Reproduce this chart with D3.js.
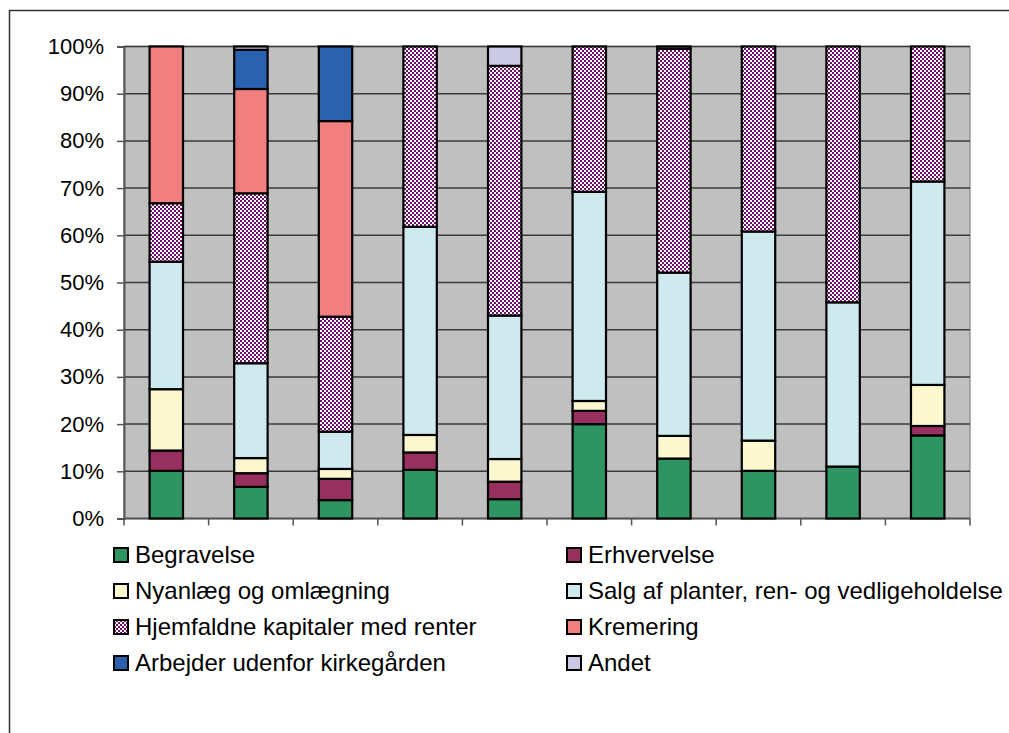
<!DOCTYPE html>
<html>
<head>
<meta charset="utf-8">
<script src="https://cdn.jsdelivr.net/npm/d3@7"></script>
<style>
  html, body { margin: 0; padding: 0; background: #fff; }
  svg { display: block; font-family: Arial, "Liberation Sans", sans-serif; }
</style>
</head>
<body>
<svg id="chart" width="1009" height="733"></svg>
<script>
const categories = ["1", "2", "3", "4", "5", "6", "7", "8", "9", "10"];
const seriesNames = [
  "Begravelse", "Erhvervelse", "Nyanlæg og omlægning",
  "Salg af planter, ren- og vedligeholdelse", "Hjemfaldne kapitaler med renter",
  "Kremering", "Arbejder udenfor kirkegården", "Andet"
];
const begravelse  = [10.1, 6.7, 3.9, 10.3, 4.1, 20.0, 12.7, 10.1, 11.0, 17.6];
const erhvervelse = [4.3, 2.9, 4.5, 3.7, 3.7, 2.8, 0, 0, 0, 2.0];
const nyanlaeg    = [13.0, 3.2, 2.1, 3.7, 4.8, 2.1, 4.8, 6.4, 0, 8.7];
const salg        = [27.0, 20.1, 7.9, 44.1, 30.4, 44.3, 34.6, 44.3, 34.8, 43.1];
const hjemfaldne  = [12.4, 36.0, 24.35, 38.2, 52.9, 30.8, 47.4, 39.2, 54.2, 28.6];
const kremering   = [33.2, 22.1, 41.45, 0, 0, 0, 0, 0, 0, 0];
const arbejder    = [0, 8.3, 15.8, 0, 0, 0, 0, 0, 0, 0];
const andet       = [0, 0.7, 0, 0, 4.1, 0, 0.5, 0, 0, 0];
const yTicks = [0, 10, 20, 30, 40, 50, 60, 70, 80, 90, 100];

const seriesValues = [begravelse, erhvervelse, nyanlaeg, salg, hjemfaldne, kremering, arbejder, andet];
const fills = ["#2e9462", "#97305f", "#fbf8cf", "#cfeaee", "url(#checker)", "#f27f7f", "#2a62b0", "#c9c9e3"];

const table = categories.map((c, i) => {
  const row = { cat: c };
  seriesNames.forEach((s, k) => row[s] = seriesValues[k][i]);
  return row;
});
const stacked = d3.stack().keys(seriesNames)(table);

const svg = d3.select("#chart");
const defs = svg.append("defs");
const pat = defs.append("pattern").attr("id", "checker")
  .attr("patternUnits", "userSpaceOnUse").attr("width", 4).attr("height", 4);
pat.append("rect").attr("width", 4).attr("height", 4).attr("fill", "#ffffff");
pat.append("rect").attr("x", 0).attr("y", 0).attr("width", 2).attr("height", 2).attr("fill", "#6b0f6b");
pat.append("rect").attr("x", 2).attr("y", 2).attr("width", 2).attr("height", 2).attr("fill", "#6b0f6b");

// outer frame
svg.append("rect").attr("x", 9.5).attr("y", 10.5).attr("width", 1030).attr("height", 740)
  .attr("fill", "none").attr("stroke", "#333").attr("stroke-width", 1.5);

const pLeft = 124, pRight = 970, pTop = 46.5, pBottom = 518.5;
const x = d3.scaleBand().domain(categories).range([pLeft, pRight]).paddingInner(0.605).paddingOuter(0.3025);
const y = d3.scaleLinear().domain([0, 100]).range([pBottom, pTop]);

// plot area
svg.append("rect").attr("x", pLeft).attr("y", pTop).attr("width", pRight - pLeft).attr("height", pBottom - pTop)
  .attr("fill", "#c0c0c0").attr("stroke", "#999").attr("stroke-width", 1.5);

// gridlines
svg.append("g").selectAll("line").data(yTicks.filter(t => t > 0)).join("line")
  .attr("x1", pLeft).attr("x2", pRight)
  .attr("y1", d => y(d)).attr("y2", d => y(d))
  .attr("stroke", "#3a3a3a").attr("stroke-width", 1.5);

// y axis
const yAxis = svg.append("g").attr("transform", `translate(${pLeft},0)`)
  .call(d3.axisLeft(y).tickValues(yTicks).tickSize(7).tickPadding(13).tickFormat(d => d + "%"));
yAxis.select(".domain").attr("stroke", "#555").attr("stroke-width", 2);
yAxis.selectAll(".tick line").attr("stroke", "#555").attr("stroke-width", 1.5);
yAxis.selectAll(".tick text").attr("font-size", 22).attr("fill", "#000")
  .attr("font-family", "Arial, 'Liberation Sans', sans-serif");

// x axis: tick marks at category boundaries
const boundaries = d3.range(categories.length + 1).map(i => pLeft + i * x.step());
const xAxisG = svg.append("g");
xAxisG.append("line").attr("x1", pLeft).attr("x2", pRight).attr("y1", pBottom).attr("y2", pBottom)
  .attr("stroke", "#555").attr("stroke-width", 2);
xAxisG.selectAll("line.tk").data(boundaries).join("line").attr("class", "tk")
  .attr("x1", d => d).attr("x2", d => d).attr("y1", pBottom).attr("y2", pBottom + 7)
  .attr("stroke", "#555").attr("stroke-width", 1.5);

// bars
svg.append("g").selectAll("g").data(stacked).join("g")
  .attr("fill", (d, i) => fills[i])
  .selectAll("rect").data(d => d.filter(p => p[1] - p[0] > 0)).join("rect")
  .attr("x", d => x(d.data.cat))
  .attr("width", x.bandwidth())
  .attr("y", d => y(d[1]))
  .attr("height", d => y(d[0]) - y(d[1]))
  .attr("stroke", "#000").attr("stroke-width", 2.2);

// legend
const legCols = [113, 566];
const legRowY = [555, 591, 627, 663];
const leg = svg.append("g");
seriesNames.forEach((name, i) => {
  const cx = legCols[i % 2], cy = legRowY[Math.floor(i / 2)];
  leg.append("rect").attr("x", cx + 1).attr("y", cy - 7).attr("width", 14).attr("height", 14)
    .attr("fill", fills[i]).attr("stroke", "#000").attr("stroke-width", 2);
  leg.append("text").attr("x", cx + 22).attr("y", cy + 8)
    .attr("font-size", 24).attr("fill", "#000").text(name);
});
</script>
</body>
</html>
